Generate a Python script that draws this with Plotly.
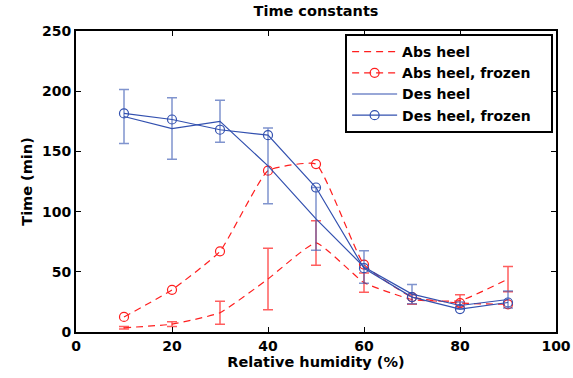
import plotly.graph_objects as go

rh = [10, 20, 30, 40, 50, 60, 70, 80, 90]

abs_heel = [3.5, 6.5, 16, 44, 74, 41, 27, 26, 44]
abs_heel_err = [1, 2, 9.5, 25.5, 18.5, 8, 4, 5, 10.5]
abs_heel_frozen = [12.5, 35, 67, 134, 139.5, 56, 29, 24, 23]

des_heel = [179, 169, 175, 138, 94, 54, 31.5, 22, 27]
des_heel_err = [22.5, 25.5, 17.5, 31.5, 26, 13.5, 8, 3, 7]
des_heel_frozen = [181.5, 176.5, 168, 163.5, 120, 53, 29, 19, 24.5]

series_names = ["Abs heel", "Abs heel, frozen", "Des heel", "Des heel, frozen"]

x_ticks = [0, 20, 40, 60, 80, 100]
y_ticks = [0, 50, 100, 150, 200, 250]

RED = "rgb(255,30,30)"
BLUE = "rgb(50,80,175)"
FONT = "DejaVu Sans"
PAD = "\u00a0" * 3

fig = go.Figure()
fig.add_trace(go.Scatter(
    x=rh, y=abs_heel, name=series_names[0] + PAD, mode="lines",
    line=dict(color=RED, width=1.2, dash="7px,5px", shape="spline", smoothing=0.4),
    error_y=dict(type="data", array=abs_heel_err, color="rgba(255,40,40,0.75)",
                 thickness=1.5, width=5),
))
fig.add_trace(go.Scatter(
    x=rh, y=abs_heel_frozen, name=series_names[1] + PAD, mode="lines+markers",
    line=dict(color=RED, width=1.2, dash="7px,5px", shape="spline", smoothing=0.4),
    marker=dict(symbol="circle-open", size=9, color=RED, line=dict(width=1.2)),
))
fig.add_trace(go.Scatter(
    x=rh, y=des_heel, name=series_names[2] + PAD, mode="lines",
    line=dict(color=BLUE, width=1.2),
    error_y=dict(type="data", array=des_heel_err, color="rgba(60,90,180,0.65)",
                 thickness=1.5, width=5),
))
fig.add_trace(go.Scatter(
    x=rh, y=des_heel_frozen, name=series_names[3] + PAD, mode="lines+markers",
    line=dict(color=BLUE, width=1.2),
    marker=dict(symbol="circle-open", size=9, color=BLUE, line=dict(width=1.2)),
))

axis_common = dict(
    showgrid=False, zeroline=False, showline=True, linecolor="black", linewidth=2,
    mirror="ticks", ticks="inside", ticklen=5, tickwidth=1, tickcolor="black",
    automargin=False,
    tickfont=dict(family=FONT, size=14, color="black", weight="bold"),
)

fig.update_layout(
    width=573, height=378,
    margin=dict(l=76, r=17, t=31, b=46),
    paper_bgcolor="white", plot_bgcolor="white",
    title=dict(text="<b>Time constants</b>", x=0.5515, xanchor="center", y=0.97, yanchor="middle",
               font=dict(family=FONT, size=14.5, color="black")),
    xaxis=dict(range=[0, 100], tickvals=x_ticks,
               title=dict(text="<b>Relative humidity (%)</b>", standoff=4,
                          font=dict(family=FONT, size=14.5, color="black")),
               **axis_common),
    yaxis=dict(range=[0, 250], tickvals=y_ticks,
               title=dict(text="<b>Time (min)</b>", standoff=6,
                          font=dict(family=FONT, size=14.5, color="black")),
               **axis_common),
    legend=dict(x=0.994, y=0.99, xanchor="right", yanchor="top",
                bgcolor="white", bordercolor="black", borderwidth=2,
                itemwidth=45,
                font=dict(family=FONT, size=14, color="black", weight="bold"),
                tracegroupgap=0),
    showlegend=True,
)

fig.write_html("out.html")
